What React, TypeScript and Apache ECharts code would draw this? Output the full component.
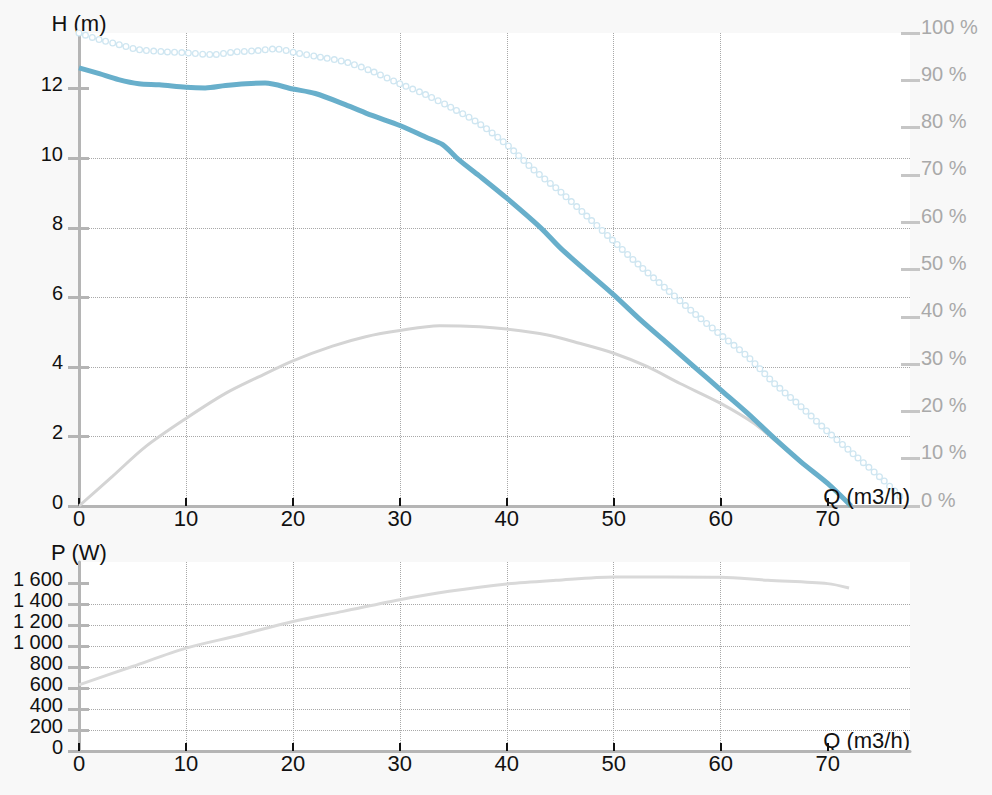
import React, { useEffect, useRef } from "react";
import * as echarts from "echarts";

// Head curve (m) vs flow Q (m3/h)
const qHead = [0, 1.9, 3.7, 5.6, 7.5, 10, 11.8, 13.7, 15.6, 17.4, 20, 22.1, 24.9, 27.4, 30, 32.4, 34, 35.5, 37.4, 40, 43.2, 45, 47.5, 50, 52.5, 55, 57.5, 60, 62.5, 65, 67.5, 70, 72.2];
const hHead = [12.6, 12.43, 12.26, 12.14, 12.11, 12.04, 12.02, 12.09, 12.14, 12.16, 11.99, 11.86, 11.54, 11.23, 10.94, 10.61, 10.39, 9.96, 9.5, 8.85, 7.99, 7.42, 6.74, 6.07, 5.35, 4.68, 4.01, 3.34, 2.67, 1.95, 1.27, 0.65, 0];

// Max head curve (hollow circles)
const qMax = [0, 1.9, 3.7, 5.6, 8.1, 10, 12.5, 14.4, 16.6, 18.4, 20.3, 22.5, 25, 27.4, 30, 32.4, 34.9, 37.4, 40, 42.5, 45, 47.5, 50, 52.5, 55, 57.5, 60, 62.5, 65, 67.5, 70, 72.5, 75, 77.2];
const hMax = [13.6, 13.41, 13.27, 13.12, 13.06, 13.03, 12.98, 13.05, 13.09, 13.14, 13.03, 12.91, 12.76, 12.5, 12.14, 11.83, 11.44, 11.0, 10.39, 9.67, 9.04, 8.33, 7.61, 6.89, 6.22, 5.55, 4.92, 4.3, 3.53, 2.86, 2.14, 1.47, 0.8, 0.15];

// Efficiency (%)
const qEff = [0, 3.1, 6.2, 10, 13.7, 16.8, 20, 23.7, 26.8, 30, 33.7, 37.5, 40, 43.7, 46.8, 50, 53.1, 56.2, 60, 63.1, 65, 67.5, 70, 72.2];
const eff = [0, 6.2, 12.5, 18.5, 23.8, 27.3, 30.7, 33.8, 35.8, 37.1, 38.1, 37.9, 37.4, 36.2, 34.4, 32.3, 29.5, 25.9, 21.7, 17.5, 14.0, 9.3, 4.7, 0];

// Power (W)
const qPow = [0, 5, 10, 14.8, 20, 24.7, 30, 34.6, 40, 44.6, 50, 54.9, 60, 64.4, 70, 72];
const pPow = [630, 805, 980, 1098, 1234, 1330, 1441, 1521, 1591, 1626, 1658, 1658, 1655, 1626, 1594, 1553];

// Tick labels
const xTicks = [0, 10, 20, 30, 40, 50, 60, 70];
const hTicks = [0, 2, 4, 6, 8, 10, 12];
const pctTicks = [0, 10, 20, 30, 40, 50, 60, 70, 80, 90, 100];
const pTicks = [0, 200, 400, 600, 800, 1000, 1200, 1400, 1600];

const zip = (a: number[], b: number[]) => a.map((v, i) => [v, b[i]]);

const font = "'Liberation Sans', Arial, sans-serif";
const axisGray = "#b5b5b5";
const gridGray = "#a8a8a8";
const textDark = "#111111";

const xAxisFor = (gridIndex: number, withName: boolean) => ({
  type: "value",
  gridIndex,
  min: 0,
  max: 77.7,
  interval: 10,
  axisLine: { show: true, onZero: false, lineStyle: { color: axisGray, width: 3 } },
  axisTick: { show: true, inside: true, length: 8, customValues: xTicks, lineStyle: { color: textDark, width: 2 } },
  axisLabel: {
    show: true,
    customValues: xTicks,
    margin: 1,
    fontSize: 22,
    color: textDark,
    fontFamily: font,
    formatter: (v: number) => (v % 10 === 0 ? String(v) : ""),
  },
  splitLine: { show: true, showMaxLine: false, lineStyle: { color: gridGray, type: "dotted", width: 1 } },
  name: withName ? "Q (m3/h)" : "",
  nameLocation: "end",
  nameGap: 0,
  nameTextStyle: { fontSize: 22, color: textDark, fontFamily: font, align: "right", verticalAlign: "bottom" },
});

// outside half of the crossing tick marks lives on the main axis, inside half here
const tickAxis = (gridIndex: number, max: number, interval: number, ticks: number[]) => ({
  type: "value",
  gridIndex,
  position: "left",
  min: 0,
  max,
  interval,
  axisLine: { show: false, onZero: false },
  axisTick: { show: true, inside: true, length: 10, customValues: ticks, lineStyle: { color: axisGray, width: 3 } },
  axisLabel: { show: false, customValues: ticks },
  splitLine: { show: false },
});

export default function App() {
  const ref = useRef<HTMLDivElement>(null);
  useEffect(() => {
    if (!ref.current) return;
    const chart = echarts.init(ref.current, null, { renderer: "svg" });
    const option: any = {
      animation: false,
      backgroundColor: "#f8f8f8",
      textStyle: { fontFamily: font },
      grid: [
        { left: 79, top: 33, width: 831, height: 473, show: true, backgroundColor: "#ffffff", borderWidth: 0, containLabel: false, outerBoundsMode: "none" },
        { left: 79, top: 562, width: 831, height: 189, show: true, backgroundColor: "#ffffff", borderWidth: 0, containLabel: false, outerBoundsMode: "none" },
      ],
      graphic: [
        {
          type: "text",
          x: 910,
          y: 507,
          z: 100,
          silent: true,
          style: { text: "Q (m3/h)", font: `22px ${font}`, fill: textDark, align: "right", verticalAlign: "bottom" },
        },
      ],
      xAxis: [xAxisFor(0, false), xAxisFor(1, true)],
      yAxis: [
        {
          type: "value",
          gridIndex: 0,
          position: "left",
          min: 0,
          max: 13.6,
          interval: 2,
          axisLine: { show: true, onZero: false, lineStyle: { color: axisGray, width: 3 } },
          axisTick: { show: true, length: 11, customValues: hTicks, lineStyle: { color: axisGray, width: 3 } },
          axisLabel: {
            customValues: hTicks,
            fontSize: 20,
            color: textDark,
            fontFamily: font,
            margin: 16,
            verticalAlign: "bottom",
            lineHeight: 9,
            formatter: (v: number) => (Number.isInteger(v / 2) ? String(v) : ""),
          },
          splitLine: { show: true, showMaxLine: false, lineStyle: { color: gridGray, type: "dotted", width: 1 } },
          name: "H (m)",
          nameLocation: "end",
          nameGap: 10,
          nameTextStyle: { fontSize: 22, color: textDark, fontFamily: font, align: "center", verticalAlign: "middle" },
        },
        {
          type: "value",
          gridIndex: 0,
          position: "right",
          offset: -9,
          min: 0,
          max: 100,
          interval: 10,
          axisLine: { show: false, onZero: false },
          axisTick: { show: true, length: 19, customValues: pctTicks, lineStyle: { color: "#c6c6c6", width: 3 } },
          axisLabel: {
            customValues: pctTicks,
            fontSize: 20,
            color: "#a9a9a9",
            fontFamily: font,
            margin: 20,
            verticalAlign: "bottom",
            lineHeight: 13,
            formatter: (v: number) => v + " %",
          },
          splitLine: { show: false },
        },
        tickAxis(0, 13.6, 2, hTicks),
        {
          type: "value",
          gridIndex: 1,
          position: "left",
          min: 0,
          max: 1800,
          interval: 200,
          axisLine: { show: true, onZero: false, lineStyle: { color: axisGray, width: 3 } },
          axisTick: { show: true, length: 11, customValues: pTicks, lineStyle: { color: axisGray, width: 3 } },
          axisLabel: {
            customValues: pTicks,
            fontSize: 20,
            color: textDark,
            fontFamily: font,
            margin: 16,
            verticalAlign: "bottom",
            lineHeight: 8,
            formatter: (v: number) =>
              v > 1600 ? "" : v >= 1000 ? Math.floor(v / 1000) + " " + String(v % 1000).padStart(3, "0") : String(v),
          },
          splitLine: { show: true, showMaxLine: false, lineStyle: { color: gridGray, type: "dotted", width: 1 } },
          name: "P (W)",
          nameLocation: "end",
          nameGap: 10,
          nameTextStyle: { fontSize: 22, color: textDark, fontFamily: font, align: "center", verticalAlign: "middle" },
        },
        tickAxis(1, 1800, 200, pTicks),
      ],
      series: [
        {
          name: "Efficiency",
          type: "line",
          xAxisIndex: 0,
          yAxisIndex: 1,
          data: zip(qEff, eff),
          symbol: "none",
          smooth: 0.3,
          silent: true,
          z: 2,
          lineStyle: { color: "#d4d4d4", width: 3 },
        },
        {
          name: "Hmax",
          type: "line",
          xAxisIndex: 0,
          yAxisIndex: 0,
          data: zip(qMax, hMax),
          symbol: "none",
          smooth: 0.3,
          silent: true,
          z: 3,
          lineStyle: { color: "#cfe6f1", width: 7, type: [0, 7], cap: "round" },
        },
        {
          name: "HmaxInner",
          type: "line",
          xAxisIndex: 0,
          yAxisIndex: 0,
          data: zip(qMax, hMax),
          symbol: "none",
          smooth: 0.3,
          silent: true,
          z: 4,
          lineStyle: { color: "#ffffff", width: 4.4, type: [0, 7], cap: "round" },
        },
        {
          name: "H",
          type: "line",
          xAxisIndex: 0,
          yAxisIndex: 0,
          data: zip(qHead, hHead),
          symbol: "none",
          smooth: 0.3,
          silent: true,
          z: 5,
          lineStyle: { color: "#68afcb", width: 5 },
        },
        {
          name: "P",
          type: "line",
          xAxisIndex: 1,
          yAxisIndex: 3,
          data: zip(qPow, pPow),
          symbol: "none",
          smooth: 0.3,
          silent: true,
          z: 2,
          lineStyle: { color: "#d9d9d9", width: 3 },
        },
      ],
    };
    chart.setOption(option);
    return () => chart.dispose();
  }, []);
  return (
    <div style={{ position: "fixed", left: 0, top: 0, width: 992, height: 795, background: "#f8f8f8", overflow: "hidden" }}>
      <div ref={ref} style={{ width: 992, height: 795 }} />
    </div>
  );
}
